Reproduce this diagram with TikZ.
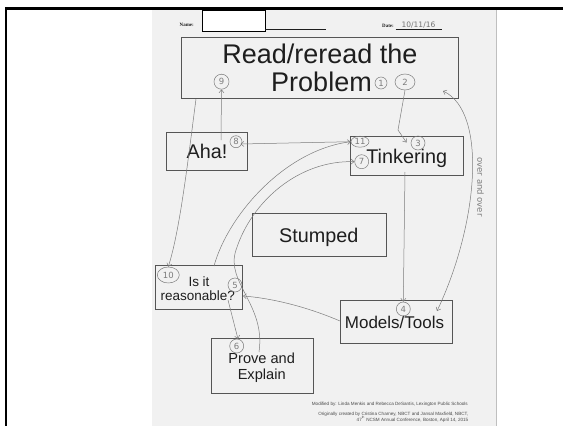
\documentclass[tikz,border=0pt]{standalone}
\usepackage{fontspec}
\setmainfont{Liberation Sans}
\newfontfamily\handfont{DejaVu Sans}
\newfontfamily\formfont{Liberation Serif}
\usetikzlibrary{arrows.meta,shapes.geometric}
\definecolor{paper}{HTML}{F1F1F1}
\definecolor{boxgrey}{HTML}{555555}
\definecolor{inkgrey}{HTML}{7C7C7C}
\definecolor{txt}{HTML}{1E1E1E}
\tikzset{
  box/.style={draw=boxgrey, line width=0.8pt, rectangle, inner sep=0pt},
  btext/.style={anchor=base, text=txt, inner sep=0pt},
  hc/.style={draw=inkgrey, line width=0.5pt, circle, inner sep=0pt, minimum size=13pt,
     text=inkgrey, font=\handfont\fontsize{8.5}{8.5}\selectfont},
  he/.style={draw=inkgrey, line width=0.5pt, ellipse, inner sep=0pt,
     text=inkgrey, font=\handfont\fontsize{8.5}{8.5}\selectfont},
  hand/.style={draw=inkgrey, line width=0.5pt},
  htip/.style={-{Straight Barb[length=3pt,width=5pt]}},
  foot/.style={anchor=base east, text=txt!80, inner sep=0pt, font=\fontsize{4.6}{5}\selectfont}
}
\begin{document}
\begin{tikzpicture}[x=1pt,y=-1pt]
\useasboundingbox (0,0) rectangle (563,426);
\fill[white] (0,0) rectangle (563,426);
\fill[paper] (151.5,10) rectangle (496.5,426);
\draw[black!25, line width=0.6pt] (496.5,10) -- (496.5,426);
\draw[black, line width=2.6pt] (5,8.7) -- (563,8.7);
\draw[black, line width=2pt] (6,7.4) -- (6,426);

% form header
\node[anchor=base west, inner sep=0pt, font=\formfont\bfseries\fontsize{5}{5}\selectfont, text=txt] (namelbl) at (179.5,26.5) {Name:};
\node[draw=black, fill=white, line width=0.7pt, rectangle, inner sep=0pt, minimum width=63pt, minimum height=21pt] (namebox) at (233.5,20.5) {};
\coordinate (nameend) at (326,29);
\draw[txt, line width=0.4pt] (namebox.south east |- nameend) -- (nameend);
\node[anchor=base west, inner sep=0pt, font=\formfont\bfseries\fontsize{5}{5}\selectfont, text=txt] (datelbl) at (382,27.5) {Date:};
\coordinate (datestart) at (395.5,29);
\coordinate (dateend) at (441.5,29);
\draw[txt, line width=0.4pt] (datestart) -- (dateend);
\node[anchor=base, inner sep=0pt, font=\handfont\fontsize{7.5}{7.5}\selectfont, text=black!55] (date) at (418.5,27) {10/11/16};

% boxes
\node[box, minimum width=276.8pt, minimum height=60.8pt] (read) at (320.1,67.9) {};
\node[box, minimum width=81.7pt, minimum height=38pt] (aha) at (206.85,151) {};
\node[box, minimum width=113pt, minimum height=39pt] (tink) at (406.5,155.5) {};
\node[box, minimum width=134pt, minimum height=43pt] (stump) at (319,234.5) {};
\node[box, minimum width=87pt, minimum height=43.6pt] (reas) at (198.5,287.5) {};
\node[box, minimum width=112pt, minimum height=43pt] (models) at (396,321.5) {};
\node[box, minimum width=102pt, minimum height=55pt] (prove) at (262,365.5) {};

% texts
\node[btext, font=\fontsize{27}{27}\selectfont] (readt1) at (320,63.3) {Read/reread the};
\node[btext, font=\fontsize{27}{27}\selectfont] (readt2) at (321.5,91.7) {Problem};
\node[btext, font=\fontsize{19.8}{19.8}\selectfont] (ahat) at (207,158) {Aha!};
\node[btext, font=\fontsize{19.8}{19.8}\selectfont] (tinkt) at (406.7,163) {Tinkering};
\node[btext, font=\fontsize{19.8}{19.8}\selectfont] (stumpt) at (318.8,242.7) {Stumped};
\node[btext, font=\fontsize{13.5}{13.5}\selectfont] (reast1) at (199,286) {Is it};
\node[btext, font=\fontsize{13.5}{13.5}\selectfont] (reast2) at (197.8,300) {reasonable?};
\node[btext, font=\fontsize{17}{17}\selectfont] (modelst) at (394.5,328) {Models/Tools};
\node[btext, font=\fontsize{14.6}{14.6}\selectfont] (provet1) at (261.7,363) {Prove and};
\node[btext, font=\fontsize{14.6}{14.6}\selectfont] (provet2) at (261.7,379.3) {Explain};

% footer
\node[foot] (foot1) at (468,405) {Modified by: Linda Menkis and Rebecca DeSantis, Lexington Public Schools};
\node[foot] (foot2) at (468.5,415) {Originally created by Cristina Charney, NBCT and Jansal Maxfield, NBCT,};
\node[foot] (foot3) at (468.5,421) {47\textsuperscript{th} NCSM Annual Conference, Boston, April 14, 2015};

% handwritten circled numbers
\node[hc, minimum size=15pt] (c9) at (221.5,81.7) {9};
\node[hc, minimum size=12pt] (c1) at (381,83) {1};
\node[he, minimum width=20pt, minimum height=16pt] (c2) at (405,82) {2};
\node[hc, minimum size=14pt] (c3) at (418,143) {3};
\node[hc, minimum size=12pt] (c8) at (236,141.7) {8};
\node[he, minimum width=18pt, minimum height=11pt] (c11) at (360,141.7) {11};
\node[hc, minimum size=14pt] (c7) at (361.7,161.7) {7};
\node[hc, minimum size=14pt] (c4) at (403.3,309) {4};
\node[hc, minimum size=14pt] (c5) at (235,285) {5};
\node[hc, minimum size=14pt] (c6) at (236.7,346) {6};
\node[he, minimum width=22pt, minimum height=16pt] (c10) at (168.3,275) {10};

% handwritten connectors
\coordinate (ahaup) at (221,140);
\draw[hand, htip] (ahaup) -- (c9.south);
\coordinate (bend3) at (398,130);
\coordinate (tip3) at (406.5,142.5);
\draw[hand, htip] (c2.south) -- (bend3) -- (tip3);
\coordinate (tip8) at (240.5,144);
\draw[hand, htip] (c11.west) -- (tip8);
\coordinate (reastop) at (214,266);
\draw[hand, htip] (reastop) .. controls (228,215) and (285,150) .. (c11.west);
\coordinate (provetop) at (259,352);
\coordinate (loop) at (236,250);
\draw[hand, htip] (provetop) .. controls (266,305) and (225,282) .. (loop) .. controls (252,200) and (300,160) .. (c7.west);
\coordinate (tinkbot) at (405,172);
\draw[hand, htip] (tinkbot) -- (c4.north);
\coordinate (modleft) at (340,321);
\coordinate (tip5) at (243,296);
\draw[hand, htip] (modleft) .. controls (305,306) and (270,298) .. (tip5);
\coordinate (reasbot) at (228,300);
\coordinate (tip6) at (238,339);
\draw[hand, htip] (reasbot) -- (tip6);
\coordinate (readbl) at (196,99);
\draw[hand, htip] (readbl) .. controls (188,160) and (180,230) .. (c10.north);
\coordinate (overtop) at (443,91);
\coordinate (overbot) at (437,311);
\draw[hand, {Straight Barb[length=3pt,width=5pt]}-{Straight Barb[length=3pt,width=5pt]}] (overtop) .. controls (488,112) and (478,225) .. (overbot);
\node[rotate=-90, text=inkgrey, inner sep=0pt, font=\handfont\fontsize{8.5}{8.5}\selectfont] (over) at (480.5,187) {over and over};
\end{tikzpicture}
\end{document}
